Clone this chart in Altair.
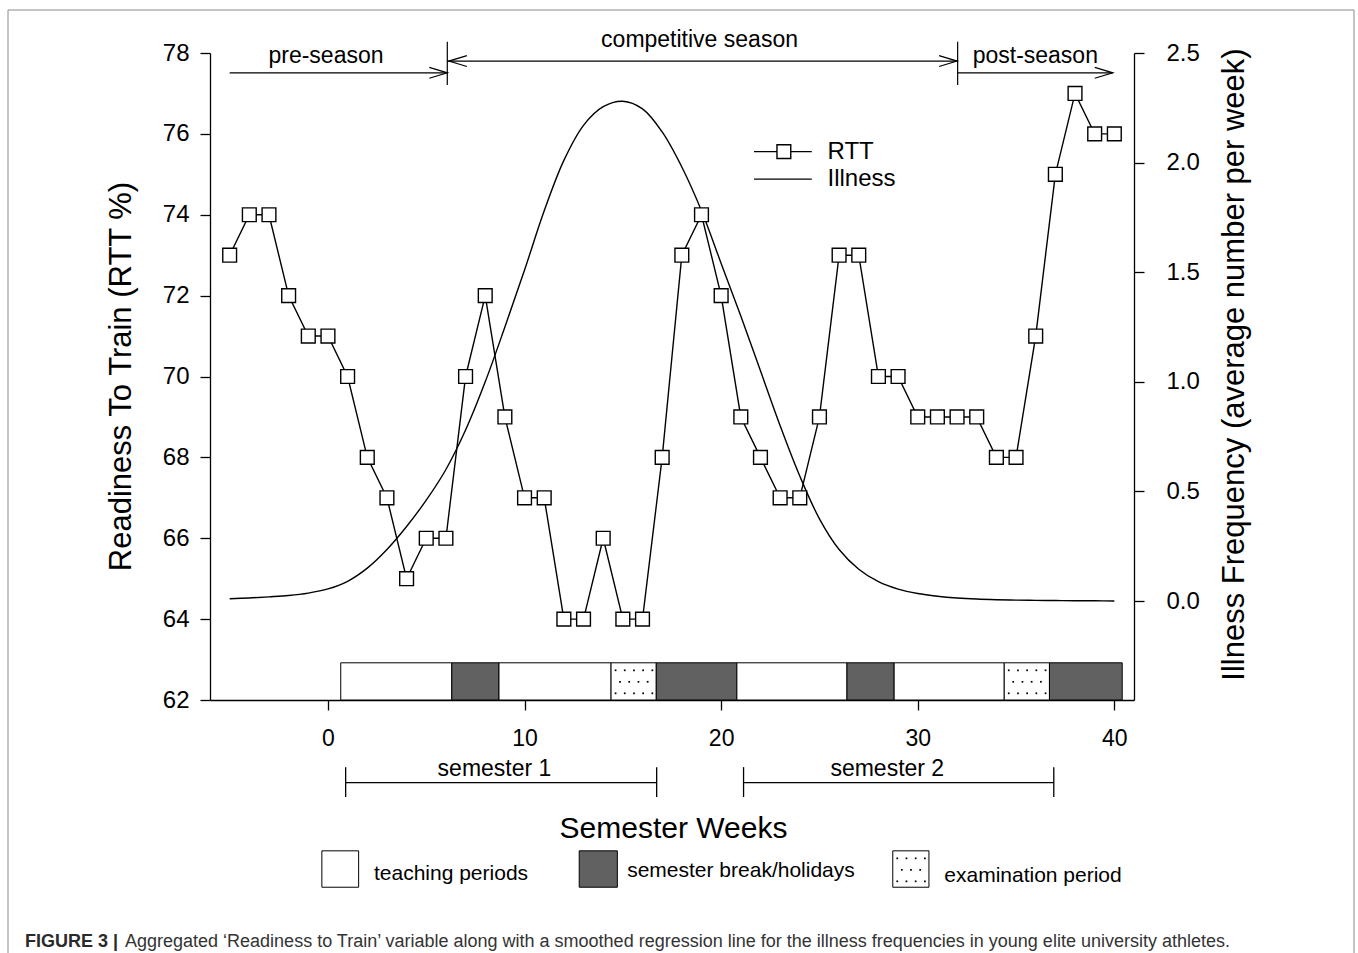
import altair as alt
import pandas as pd

FONT = "Liberation Sans"

# ---------------- data ----------------
weeks = list(range(-5, 41))
rtt = [73, 74, 74, 72, 71, 71, 70, 68, 67, 65,
       66, 66, 70, 72, 69, 67, 67, 64, 64, 66,
       64, 64, 68, 73, 74, 72, 69, 68, 67, 67,
       69, 73, 73, 70, 70, 69, 69, 69, 69, 68,
       68, 71, 75, 77, 76, 76]
illness = [0.010, 0.014, 0.019, 0.025, 0.036, 0.055, 0.090, 0.150, 0.235, 0.340,
           0.460, 0.600, 0.780, 1.000, 1.250, 1.510, 1.780, 2.010, 2.170, 2.255,
           2.280, 2.245, 2.140, 1.980, 1.780, 1.540, 1.300, 1.050, 0.800, 0.570,
           0.375, 0.235, 0.145, 0.088, 0.054, 0.034, 0.022, 0.014, 0.009, 0.006,
           0.004, 0.003, 0.002, 0.001, 0.001, 0.000]

period_kind = ["teaching", "break", "teaching", "exam", "break",
               "teaching", "break", "teaching", "exam", "break"]
period_start = [0.65, 6.3, 8.7, 14.4, 16.7, 20.8, 26.4, 28.8, 34.4, 36.7]
period_end = [6.3, 8.7, 14.4, 16.7, 20.8, 26.4, 28.8, 34.4, 36.7, 40.4]

semester_labels = ["semester 1", "semester 2"]
semester_start = [0.9, 21.14]
semester_end = [16.72, 36.92]

season_labels = ["pre-season", "competitive season", "post-season"]
season_start = [-5.0, 6.07, 32.03]
season_end = [6.07, 32.03, 39.92]

legend_kinds = ["teaching", "break", "exam"]
legend_texts = ["teaching periods", "semester break/holidays", "examination period"]

caption_bold = "FIGURE 3 |"
caption_text = ("Aggregated \u2018Readiness to Train\u2019 variable along with a smoothed regression "
                "line for the illness frequencies in young elite university athletes.")

# ---------------- annotation positions (in axis units) ----------------
season_line_y = [77.51, 77.80, 77.51]
season_text_x = [-0.1, 18.9, 35.98]
season_text_y = [77.744, 78.155, 77.744]
season_tick_x = [6.07, 32.03]
head_x = [6.07, 6.15, 32.0, 39.92]
head_y = [77.51, 77.80, 77.80, 77.51]
head_dir = ["r", "l", "r", "r"]

semester_line_y = 59.955
semester_tick_y = (59.60, 60.34)
semester_text_x = [8.47, 28.45]
semester_text_y = 60.121

period_y = (62.0, 62.92)

leg_box_x0 = [-0.31, 12.78, 28.73]
leg_box_x1 = [1.56, 14.72, 30.57]
leg_box_y = (57.37, 58.27)
leg_text_x = [2.34, 15.22, 31.35]
leg_text_y = [57.549, 57.63, 57.506]

in_leg_x = (21.67, 24.61)
in_leg_sym_x = 23.19
in_leg_y = [75.56, 74.88]
in_leg_text_x = 25.41
in_leg_text_y = [75.39, 74.72]
in_leg_labels = ["RTT", "Illness"]

# ---------------- scales / axes ----------------
W, H = 924, 647
XDOM = [-6, 41]
YDOM = [62, 78]
Y2DOM = [-0.4516, 2.5]
PXW = W / (XDOM[1] - XDOM[0])
PXR = H / (YDOM[1] - YDOM[0])

xs = alt.Scale(domain=XDOM, nice=False, zero=False)
ys = alt.Scale(domain=YDOM, nice=False, zero=False)
ys2 = alt.Scale(domain=Y2DOM, nice=False, zero=False)

axis_common = dict(grid=False, domainColor="black", tickColor="black", labelColor="black",
                   titleColor="black", domainWidth=1.3, tickWidth=1.3, tickSize=10,
                   labelFont=FONT, titleFont=FONT, titleFontWeight="normal", labelFlush=False)

x_axis = alt.Axis(values=[0, 10, 20, 30, 40], title="Semester Weeks", labelFontSize=23,
                  labelPadding=17, titleFontSize=30, titleX=463, titleY=137,
                  titleAlign="center", titleBaseline="alphabetic", **axis_common)
y_axis = alt.Axis(values=list(range(62, 79, 2)), title="Readiness To Train (RTT %)",
                  labelFontSize=24, labelPadding=11, titleFontSize=31, titleAngle=270,
                  titleX=-89, titleY=323, titleAlign="center", titleBaseline="middle",
                  **axis_common)
y2_axis = alt.Axis(orient="right", values=[0, 0.5, 1, 1.5, 2, 2.5], format=".1f",
                   labelFontSize=24, labelPadding=22,
                   title="Illness Frequency (average number per week)", titleFontSize=31,
                   titleAngle=270, titleX=100, titleY=311, titleAlign="center",
                   titleBaseline="middle", **axis_common)

fill_scale = alt.Scale(domain=["teaching", "break", "exam"], range=["white", "#616161", "white"])


def X(f):
    return alt.X(f, type="quantitative", scale=xs, axis=x_axis)


def XD(v):
    return alt.XDatum(v, type="quantitative", scale=xs, axis=x_axis)


def Y(f):
    return alt.Y(f, type="quantitative", scale=ys, axis=None)


def YD(v):
    return alt.YDatum(v, type="quantitative", scale=ys, axis=None)


# ---------------- tables ----------------
df = pd.DataFrame({"week": weeks, "rtt": rtt, "illness": illness})
pdf = pd.DataFrame({"kind": period_kind, "start": period_start, "end": period_end})
sdf = pd.DataFrame({"label": semester_labels, "start": semester_start, "end": semester_end,
                    "tx": semester_text_x})
stick = pd.DataFrame({"x": semester_start + semester_end})
season_df = pd.DataFrame({"label": season_labels, "start": season_start, "end": season_end,
                          "ly": season_line_y, "tx": season_text_x, "ty": season_text_y})
stick2 = pd.DataFrame({"x": season_tick_x})
heads = pd.DataFrame({"x": head_x, "y": head_y, "dir": head_dir})
legdf = pd.DataFrame({"kind": legend_kinds, "x0": leg_box_x0, "x1": leg_box_x1,
                      "tx": leg_text_x, "ty": leg_text_y, "label": legend_texts})
inleg = pd.DataFrame({"label": in_leg_labels, "y": in_leg_y, "ty": in_leg_text_y})


# stipple texture for the examination-period boxes
def stipple(x0, x1, ytop, height_px):
    pts = []
    width_px = (x1 - x0) * PXW
    rows = [r for r in (7.5, 19.0, 30.5) if r < height_px - 2]
    for i, r in enumerate(rows):
        c = 4.5 if i % 2 == 0 else 9.0
        while c < width_px - 2:
            pts.append({"x": x0 + c / PXW, "y": ytop - r / PXR})
            c += 9.2
    return pts


dots = []
for k, a, b in zip(period_kind, period_start, period_end):
    if k == "exam":
        dots += stipple(a, b, period_y[1], (period_y[1] - period_y[0]) * PXR)
dots += stipple(leg_box_x0[2], leg_box_x1[2], leg_box_y[1], (leg_box_y[1] - leg_box_y[0]) * PXR)
dotdf = pd.DataFrame(dots)

# ---------------- layers ----------------
frame = alt.Chart(pd.DataFrame({"a": [0]})).mark_rect(
    fillOpacity=0, stroke="#8a8a8a", strokeWidth=1).encode(
    x=alt.value(-202), x2=alt.value(1144), y=alt.value(-43), y2=alt.value(910))

periods = alt.Chart(pdf).mark_rect(stroke="black", strokeWidth=1).encode(
    x=X("start"), x2=alt.X2("end"),
    y=YD(period_y[0]), y2=alt.Y2Datum(period_y[1]),
    fill=alt.Fill("kind:N", scale=fill_scale, legend=None))

legboxes = alt.Chart(legdf).mark_rect(stroke="black", strokeWidth=1).encode(
    x=X("x0"), x2=alt.X2("x1"),
    y=YD(leg_box_y[0]), y2=alt.Y2Datum(leg_box_y[1]),
    fill=alt.Fill("kind:N", scale=fill_scale, legend=None))

stip = alt.Chart(dotdf).mark_square(size=3, color="black", opacity=1).encode(
    x=X("x"), y=Y("y"))

legtext = alt.Chart(legdf).mark_text(font=FONT, fontSize=21, align="left",
                                     baseline="alphabetic", color="black").encode(
    x=X("tx"), y=Y("ty"), text="label:N")

sem_line = alt.Chart(sdf).mark_rule(color="black", strokeWidth=1.3).encode(
    x=X("start"), x2=alt.X2("end"), y=YD(semester_line_y))
sem_ticks = alt.Chart(stick).mark_rule(color="black", strokeWidth=1.3).encode(
    x=X("x"), y=YD(semester_tick_y[0]), y2=alt.Y2Datum(semester_tick_y[1]))
sem_text = alt.Chart(sdf).mark_text(font=FONT, fontSize=23, align="center",
                                    baseline="alphabetic", color="black").encode(
    x=X("tx"), y=YD(semester_text_y), text="label:N")

sea_line = alt.Chart(season_df).mark_rule(color="black", strokeWidth=1.2).encode(
    x=X("start"), x2=alt.X2("end"), y=Y("ly"))
sea_ticks = alt.Chart(stick2).mark_rule(color="black", strokeWidth=1.2).encode(
    x=X("x"), y=YD(77.21), y2=alt.Y2Datum(78.28))
head_r = "M-1,-0.3L0,0L-1,0.3"
head_l = "M1,-0.3L0,0L1,0.3"
sea_heads = alt.Chart(heads).mark_point(filled=False, color="black", strokeWidth=1.2,
                                        size=1296, opacity=1).encode(
    x=X("x"), y=Y("y"),
    shape=alt.Shape("dir:N", scale=alt.Scale(domain=["r", "l"], range=[head_r, head_l]),
                    legend=None))
sea_text = alt.Chart(season_df).mark_text(font=FONT, fontSize=23, align="center",
                                          baseline="alphabetic", color="black").encode(
    x=X("tx"), y=Y("ty"), text="label:N")

ill_line = alt.Chart(df).mark_line(color="black", strokeWidth=1.4,
                                   interpolate="catmull-rom").encode(
    x=X("week"), y=alt.Y("illness:Q", scale=ys2, axis=y2_axis))

rtt_line = alt.Chart(df).mark_line(color="black", strokeWidth=1.4).encode(
    x=X("week"), y=alt.Y("rtt:Q", scale=ys, axis=y_axis))
rtt_pts = alt.Chart(df).mark_point(shape="square", size=190, filled=True, fill="white",
                                   stroke="black", strokeWidth=1.4, opacity=1).encode(
    x=X("week"), y=Y("rtt"))

inleg_lines = alt.Chart(inleg).mark_rule(color="black", strokeWidth=1.4).encode(
    x=XD(in_leg_x[0]), x2=alt.X2Datum(in_leg_x[1]), y=Y("y"))
inleg_sym = alt.Chart(inleg[inleg["label"] == "RTT"]).mark_point(
    shape="square", size=190, filled=True, fill="white", stroke="black",
    strokeWidth=1.4, opacity=1).encode(x=XD(in_leg_sym_x), y=Y("y"))
inleg_text = alt.Chart(inleg).mark_text(font=FONT, fontSize=24, align="left",
                                        baseline="alphabetic", color="black").encode(
    x=XD(in_leg_text_x), y=Y("ty"), text="label:N")

cap1 = alt.Chart(pd.DataFrame({"t": [caption_bold]})).mark_text(
    font=FONT, fontSize=18, fontWeight="bold",
    align="left", baseline="alphabetic", color="#2a2a2a").encode(
    x=alt.value(-185), y=alt.value(893.5), text="t:N")
cap2 = alt.Chart(pd.DataFrame({"t": [caption_text]})).mark_text(
    font=FONT, fontSize=18,
    align="left", baseline="alphabetic", color="#333333").encode(
    x=alt.value(-85), y=alt.value(893.5), text="t:N")

chart = alt.layer(
    frame, periods, legboxes, stip, legtext, sem_line, sem_ticks, sem_text,
    sea_line, sea_ticks, sea_heads, sea_text,
    rtt_line, ill_line, rtt_pts,
    inleg_lines, inleg_sym, inleg_text, cap1, cap2,
).resolve_scale(y="independent").properties(
    width=W, height=H,
    autosize=alt.AutoSizeParams(type="none"),
    padding={"left": 210, "top": 53, "right": 224, "bottom": 253},
    background="white",
).configure_view(stroke=None)

chart.save("out.html", embed_options={"renderer": "svg", "actions": False})
